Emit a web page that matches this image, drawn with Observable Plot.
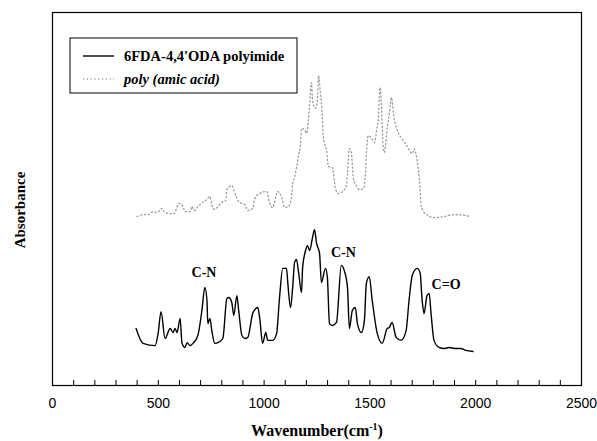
<!DOCTYPE html>
<html><head><meta charset="utf-8">
<script src="https://cdn.jsdelivr.net/npm/d3@7"></script>
<script src="https://cdn.jsdelivr.net/npm/@observablehq/plot@0.6"></script>
<style>body{margin:0;background:#fff} #chart{width:597px;height:441px}</style>
</head><body><div id="chart"></div>
<script>
// 6FDA-4,4'ODA polyimide (solid line)
const polyimideWavenumber = [395,428,485,499,513,532,556,570,579,589,603,612,626,636,650,664,687,706,720,730,734,744,753,767,782,805,824,833,847,857,871,880,895,909,923,946,960,970,979,993,1008,1017,1040,1059,1073,1088,1106,1111,1125,1135,1144,1153,1163,1177,1182,1196,1205,1215,1229,1238,1248,1262,1271,1290,1299,1309,1323,1342,1365,1379,1394,1403,1417,1431,1441,1460,1474,1483,1497,1511,1535,1558,1582,1591,1605,1624,1648,1671,1685,1700,1723,1737,1747,1756,1770,1780,1789,1803,1827,1850,1874,1907,1930,1954,1987];
const polyimideAbsorbance = [15.3,11.3,10.7,13.9,19.8,12.6,15.3,14.2,15.3,14.2,18.0,11.3,10.2,11.5,10.7,11.3,13.4,20.1,26.3,22.8,16.6,18.0,14.7,11.3,11.5,12.6,23.3,23.6,22.3,18.8,24.1,20.1,13.4,12.6,12.9,19.3,20.6,20.9,18.2,11.3,14.2,12.1,12.1,13.9,23.6,31.4,31.4,28.2,20.9,26.3,33.0,33.8,30.3,24.9,31.6,36.2,37.5,36.2,39.7,41.8,38.1,35.4,27.6,31.4,29.0,16.6,16.1,16.9,32.2,30.8,26.3,15.3,20.1,20.9,16.6,14.2,17.4,27.3,29.2,22.8,13.9,11.3,15.3,15.5,16.9,12.9,12.1,14.7,22.8,29.5,31.4,30.3,22.8,19.3,24.1,24.7,19.3,12.1,10.2,9.9,10.2,9.9,9.9,9.4,9.1];

// poly (amic acid) (dotted line)
const amicWavenumber = [400,428,452,476,494,518,527,551,574,598,617,626,650,659,669,692,730,744,753,767,782,800,819,824,847,866,876,895,909,923,946,956,979,1012,1026,1040,1064,1083,1097,1116,1130,1135,1144,1153,1163,1172,1177,1191,1201,1215,1224,1229,1243,1252,1257,1266,1271,1281,1295,1304,1323,1337,1351,1370,1389,1394,1403,1412,1422,1436,1450,1469,1479,1483,1492,1511,1521,1535,1540,1544,1549,1554,1563,1568,1582,1596,1601,1615,1634,1657,1676,1700,1709,1723,1733,1737,1742,1751,1775,1798,1850,1897,1949,1973];
const amicAbsorbance = [45.3,45.8,45.8,46.6,46.4,47.5,46.6,46.1,46.1,48.8,48.0,46.6,46.6,48.0,46.9,48.3,49.9,50.7,48.3,47.2,48.0,49.1,49.6,52.5,53.6,50.9,49.6,48.8,48.5,46.9,47.5,50.1,51.5,52.0,49.1,47.7,52.0,50.4,47.7,48.0,50.9,54.2,55.8,58.4,61.9,64.6,68.9,68.6,67.6,75.1,81.2,76.4,74.3,76.4,83.1,78.6,75.9,66.0,63.0,58.7,58.4,52.8,51.5,52.0,53.6,56.8,63.5,62.5,55.5,53.6,52.5,52.8,56.8,61.7,67.0,66.0,65.1,69.7,71.3,76.9,79.9,75.6,63.8,62.5,69.2,74.8,77.2,71.3,67.8,65.7,64.1,62.2,63.5,60.3,55.8,52.8,48.3,46.9,45.6,45.0,45.3,45.8,45.6,45.3];

const seriesNames = ["6FDA-4,4'ODA polyimide", "poly (amic acid)"];
const xTickLabels = [0, 500, 1000, 1500, 2000, 2500];
const xMinorTicks = [0,100,200,300,400,500,600,700,800,900,1000,1100,1200,1300,1400,1500,1600,1700,1800,1900,2000,2100,2200,2300,2400,2500];
const annotationLabels = ["C-N", "C-N", "C=O"];
const annotationX = [716, 1375, 1860];
const annotationY = [30.3, 35.7, 27.1];

const polyimide = polyimideWavenumber.map((x, i) => ({x, y: polyimideAbsorbance[i]}));
const amic = amicWavenumber.map((x, i) => ({x, y: amicAbsorbance[i]}));
const annots = annotationLabels.map((t, i) => ({t, x: annotationX[i], y: annotationY[i]}));

const W = 597, H = 441, mL = 52, mR = 16, mT = 12, mB = 56;
const serif = "'Liberation Serif', 'Times New Roman', serif";

const chart = Plot.plot({
  width: W, height: H,
  marginLeft: mL, marginRight: mR, marginTop: mT, marginBottom: mB,
  style: {fontFamily: "'Liberation Sans', Arial, sans-serif", background: "#fff", color: "#000"},
  x: {domain: [0, 2500], label: null},
  y: {domain: [0, 100], axis: null},
  marks: [
    Plot.tickX(xMinorTicks, {x: d => d, insetTop: H - mT - mB - 5, stroke: "#000", strokeWidth: 1}),
    Plot.axisX({ticks: xTickLabels, tickFormat: d => String(d), tickSize: 0, tickPadding: 13, fontSize: 14, label: null}),
    Plot.line(amic, {x: "x", y: "y", stroke: "#9a9a9a", strokeWidth: 1.3, strokeDasharray: "1.2,2.6", curve: "monotone-x"}),
    Plot.line(polyimide, {x: "x", y: "y", stroke: "#000", strokeWidth: 1.4, curve: "monotone-x"}),
    Plot.text(annots, {x: "x", y: "y", text: "t", fontFamily: serif, fontWeight: "bold", fontSize: 14, fill: "#000"}),
    Plot.frame({stroke: "#000", strokeWidth: 1.2})
  ]
});
document.getElementById("chart").appendChild(chart);

const svg = d3.select(chart);
// Legend
const lg = svg.append("g").attr("text-anchor", "start");
lg.append("rect").attr("x", 70).attr("y", 38).attr("width", 227).attr("height", 55)
  .attr("fill", "#fff").attr("stroke", "#000").attr("stroke-width", 1);
lg.append("line").attr("x1", 83).attr("x2", 114).attr("y1", 56).attr("y2", 56)
  .attr("stroke", "#000").attr("stroke-width", 1.4);
lg.append("line").attr("x1", 83).attr("x2", 114).attr("y1", 79).attr("y2", 79)
  .attr("stroke", "#9a9a9a").attr("stroke-width", 1.3).attr("stroke-dasharray", "1.2,2.6");
lg.append("text").attr("x", 124).attr("y", 61).attr("text-anchor", "start").text(seriesNames[0])
  .attr("font-family", serif).attr("font-weight", "bold").attr("font-size", 14.5).attr("fill", "#000");
lg.append("text").attr("x", 124).attr("y", 84).attr("text-anchor", "start").text(seriesNames[1])
  .attr("font-family", serif).attr("font-weight", "bold").attr("font-style", "italic").attr("font-size", 14.5).attr("fill", "#000");

// Axis titles
svg.append("text").attr("transform", "translate(25,210) rotate(-90)").attr("text-anchor", "middle")
  .attr("font-family", serif).attr("font-weight", "bold").attr("font-size", 15).attr("fill", "#000")
  .text("Absorbance");
const xl = svg.append("text").attr("x", 317).attr("y", 436).attr("text-anchor", "middle")
  .attr("font-family", serif).attr("font-weight", "bold").attr("font-size", 16).attr("fill", "#000");
xl.append("tspan").text("Wavenumber(cm");
xl.append("tspan").attr("dy", -6).attr("font-size", 10).text("-1");
xl.append("tspan").attr("dy", 6).text(")");
</script></body></html>
